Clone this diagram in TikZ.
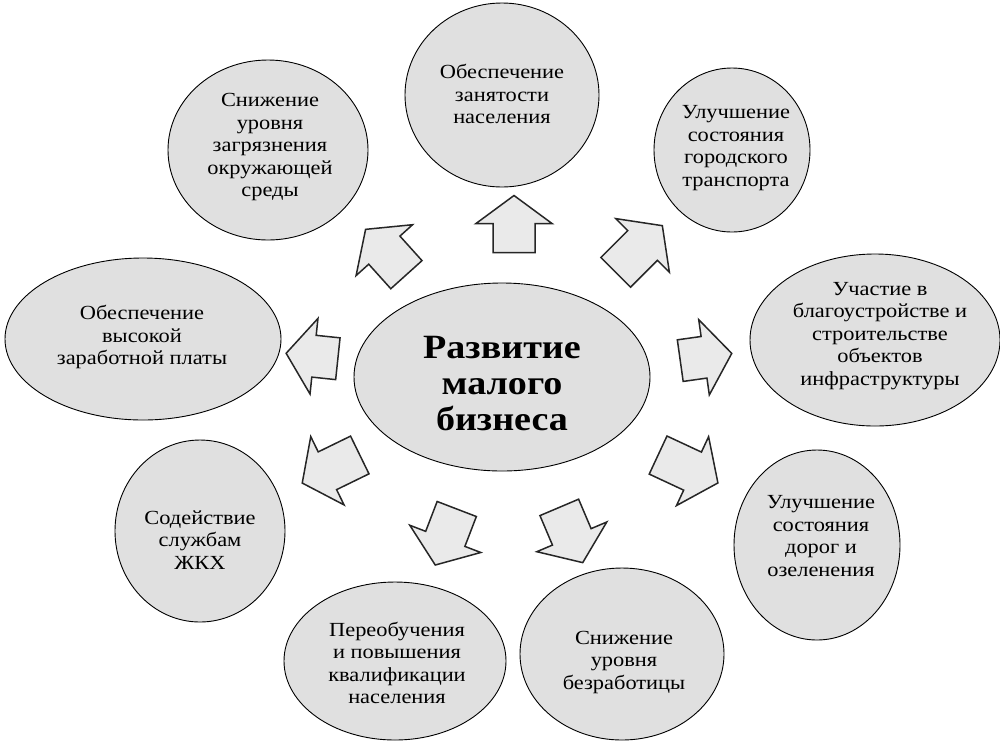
\documentclass[tikz,border=0pt]{standalone}
\usepackage{fontspec}
\setmainfont{Liberation Serif}[FakeStretch=1.12]
\usetikzlibrary{shapes.geometric}
\definecolor{bubblefill}{RGB}{224,224,224}
\definecolor{arrowfill}{RGB}{234,234,234}
\tikzset{
  bubble/.style={ellipse, draw=black, line width=0.9pt, fill=bubblefill, inner sep=0pt},
  txt/.style={align=center, inner sep=0pt, font=\fontsize{20}{22.5}\selectfont},
  bigtxt/.style={align=center, inner sep=0pt, font=\fontsize{34}{36}\selectfont\bfseries},
  arrowstyle/.style={draw=black!85, line width=1.5pt, fill=arrowfill, line join=miter},
  pics/blockarrow/.style={code={
    \draw[arrowstyle] ({-#1/2},-21) -- ({#1/2-28},-21) -- ({#1/2-28},-38) -- ({#1/2},0)
      -- ({#1/2-28},38) -- ({#1/2-28},21) -- ({-#1/2},21) -- cycle;
  }}
}
\begin{document}
\begin{tikzpicture}[x=1pt,y=-1pt]
\useasboundingbox (0,0) rectangle (1000,740);
% ellipses
\node[bubble, minimum width=296pt, minimum height=188pt] (c) at (502,377) {};
\node[bubble, minimum width=194pt, minimum height=184pt] (n1) at (502,95) {};
\node[bubble, minimum width=200pt, minimum height=180pt] (n2) at (268,150) {};
\node[bubble, minimum width=156pt, minimum height=164pt] (n3) at (732,150) {};
\node[bubble, minimum width=250pt, minimum height=172pt] (n4) at (875,340) {};
\node[bubble, minimum width=276pt, minimum height=162pt] (n5) at (143,339) {};
\node[bubble, minimum width=166pt, minimum height=190pt] (n6) at (817,545) {};
\node[bubble, minimum width=170pt, minimum height=182pt] (n7) at (200,531) {};
\node[bubble, minimum width=222pt, minimum height=158pt] (n8) at (395,661) {};
\node[bubble, minimum width=204pt, minimum height=172pt] (n9) at (622,654) {};
% texts
\node[bigtxt] (tc) at (502,384) {Развитие\\малого\\бизнеса};
\node[txt] (t1) at (502,94) {Обеспечение\\занятости\\населения};
\node[txt] (t2) at (270,147) {Снижение\\уровня\\загрязнения\\окружающей\\среды};
\node[txt] (t3) at (736,148) {Улучшение\\состояния\\городского\\транспорта};
\node[txt] (t4) at (880,336) {Участие в\\благоустройстве и\\строительстве\\объектов\\инфраструктуры};
\node[txt] (t5) at (142,337) {Обеспечение\\высокой\\заработной платы};
\node[txt] (t6) at (821,536) {Улучшение\\состояния\\дорог и\\озеленения};
\node[txt] (t7) at (200,540) {Содействие\\службам\\ЖКХ};
\node[txt] (t8) at (397,663) {Переобучения\\и повышения\\квалификации\\населения};
\node[txt] (t9) at (624,662) {Снижение\\уровня\\безработицы};
% block arrows
\pic[rotate=90] at (514,224) {blockarrow=57};
\pic[rotate=132] at (386,252) {blockarrow=61};
\pic[rotate=45] at (639,249) {blockarrow=66};
\pic[rotate=174] at (312,356) {blockarrow=52};
\pic[rotate=8] at (706,357) {blockarrow=52};
\pic[rotate=-154] at (331,469) {blockarrow=64};
\pic[rotate=-25] at (688,469) {blockarrow=66};
\pic[rotate=-111] at (446,537) {blockarrow=60};
\pic[rotate=-67] at (571,535) {blockarrow=60};
\end{tikzpicture}
\end{document}
